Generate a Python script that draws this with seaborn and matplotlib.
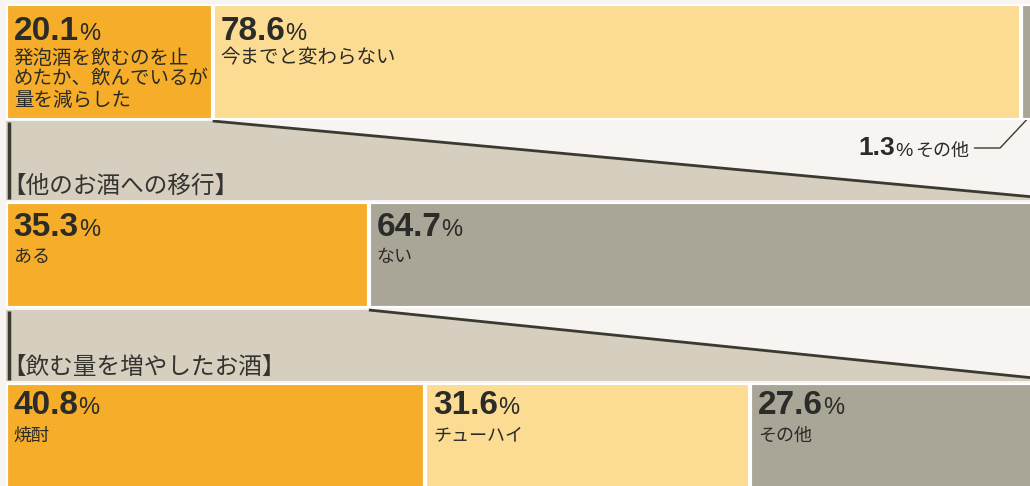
import matplotlib
matplotlib.use('Agg')
import numpy as np
import pandas as pd
import matplotlib.pyplot as plt
import seaborn as sns
from matplotlib import font_manager

# --- datos del gráfico ---
bar1_labels = ['発泡酒を飲むのを止\nめたか、飲んでいるが\n量を減らした', '今までと変わらない', 'その他']
bar1_values = [20.1, 78.6, 1.3]

bar2_title = '【他のお酒への移行】'
bar2_labels = ['ある', 'ない']
bar2_values = [35.3, 64.7]

bar3_title = '【飲む量を増やしたお酒】'
bar3_labels = ['焼酎', 'チューハイ', 'その他']
bar3_values = [40.8, 31.6, 27.6]

# --- estilo ---
sns.set_theme(style='white')
plt.rcParams['font.family'] = ['Noto Sans CJK JP', 'DejaVu Sans']

_names = {f.name for f in font_manager.fontManager.ttflist}
NUM_FONT = 'Liberation Sans' if 'Liberation Sans' in _names else 'DejaVu Sans'
PCT_FONT = 'Liberation Sans Narrow' if 'Liberation Sans Narrow' in _names else NUM_FONT

BG = '#f8f4f2'
ORANGE = '#f6ad29'
YELLOW = '#fcdc93'
GRAY = '#a9a698'
BEIGE = '#d6cebe'
LINE = '#3a3a30'
TEXT = '#2b2b28'

W, H = 1030, 486
X0, XW = 6, 1028          # pixel del 0% y ancho del 100%
tops = [4, 202, 383]      # borde superior de cada barra (px)
heights = [116, 106, 106]

fig = plt.figure(figsize=(W / 100, H / 100), dpi=100, facecolor=BG)


def px_rect(left, top, width, height):
    return [left / W, 1 - (top + height) / H, width / W, height / H]


# capa de fondo: embudos y textos sueltos (x en %, y en px)
ax_bg = fig.add_axes(px_rect(X0, 0, XW, H))
ax_bg.set_xlim(0, 100)
ax_bg.set_ylim(H, 0)
ax_bg.axis('off')


def draw_funnel(ax, x_from, y_top, y_bot):
    ax.fill([0, x_from, 100, 100, 0], [y_top, y_top, y_bot - 3, y_bot, y_bot],
            color=BEIGE, lw=0, zorder=1)
    ax.plot([x_from, 100], [y_top, y_bot - 3], color=LINE, lw=2, zorder=2,
            solid_capstyle='butt')
    ax.plot([0.25, 0.25], [y_top + 1, y_bot - 1], color=LINE, lw=2.5, zorder=2,
            solid_capstyle='butt')


draw_funnel(ax_bg, bar1_values[0], tops[0] + heights[0] + 1, tops[1] - 2)
draw_funnel(ax_bg, bar2_values[0], tops[1] + heights[1] + 2, tops[2] - 2)


def draw_bar(row, values, labels, colors, pad_top, label_gap, label_size, show_last=True):
    ax = fig.add_axes(px_rect(X0, tops[row], XW, heights[row]))
    ends = np.cumsum(values)
    df = pd.DataFrame({'fila': ['r'] * len(values), 'fin': ends, 'color': colors})
    # barras apiladas: se dibuja del acumulado mayor al menor
    for _, r in df.iloc[::-1].iterrows():
        sns.barplot(data=r.to_frame().T, x='fin', y='fila', orient='h',
                    color=r['color'], saturation=1, width=1,
                    edgecolor='white', linewidth=3, ax=ax)
    ax.set_xlim(0, 100)
    ax.set_ylim(0.5, -0.5)
    ax.axis('off')

    starts = ends - np.array(values)
    n = len(values) if show_last else len(values) - 1
    for i in range(n):
        num = ax.annotate(f'{values[i]:.1f}', xy=(starts[i], 1),
                          xycoords=('data', 'axes fraction'),
                          xytext=(5.5, -pad_top), textcoords='offset points',
                          ha='left', va='top', fontsize=24, fontweight='bold',
                          family=NUM_FONT, color=TEXT)
        ax.annotate('%', xy=(1, 0), xycoords=num, xytext=(0, 1.5),
                    textcoords='offset points', ha='left', va='bottom',
                    fontsize=17, family=PCT_FONT, color=TEXT)
        ax.annotate(labels[i], xy=(0, 0), xycoords=num, xytext=(0, -label_gap),
                    textcoords='offset points', ha='left', va='top',
                    fontsize=label_size, color=TEXT, linespacing=1.0)
    return ax


ax1 = draw_bar(0, bar1_values, bar1_labels, [ORANGE, YELLOW, GRAY], 9, 0, 14, show_last=False)
ax2 = draw_bar(1, bar2_values, bar2_labels, [ORANGE, GRAY], 7, 4, 13)
ax3 = draw_bar(2, bar3_values, bar3_labels, [ORANGE, YELLOW, GRAY], 5, 4, 13)

# títulos de cada bloque
for ax, title in [(ax2, bar2_title), (ax3, bar3_title)]:
    ax.annotate(title, xy=(0, 1), xycoords='axes fraction', xytext=(-3, 3),
                textcoords='offset points', ha='left', va='bottom',
                fontsize=17, color='#333330')

# etiqueta del 1.3% con línea guía
x_mid = bar1_values[0] + bar1_values[1] + bar1_values[2] / 2
y_lab = tops[0] + heights[0] + 28
ax_bg.plot([x_mid, 96.7, 94.2], [tops[0] + heights[0] - 1, y_lab, y_lab],
           color=LINE, lw=1, zorder=3)
t_other = ax_bg.annotate(bar1_labels[2], xy=(93.7, y_lab), xytext=(0, -2),
                         textcoords='offset points', ha='right', va='center',
                         fontsize=13, color=TEXT, zorder=4)
t_pct = ax_bg.annotate('%', xy=(0, 0), xycoords=t_other, xytext=(-2, 0),
                       textcoords='offset points', ha='right', va='bottom',
                       fontsize=14, family=PCT_FONT, color=TEXT)
ax_bg.annotate(f'{bar1_values[2]:.1f}', xy=(0, 0), xycoords=t_pct, xytext=(0, 0),
               textcoords='offset points', ha='right', va='bottom',
               fontsize=19, fontweight='bold', family=NUM_FONT, color=TEXT)

fig.savefig('out.png', dpi=100, facecolor=BG)
